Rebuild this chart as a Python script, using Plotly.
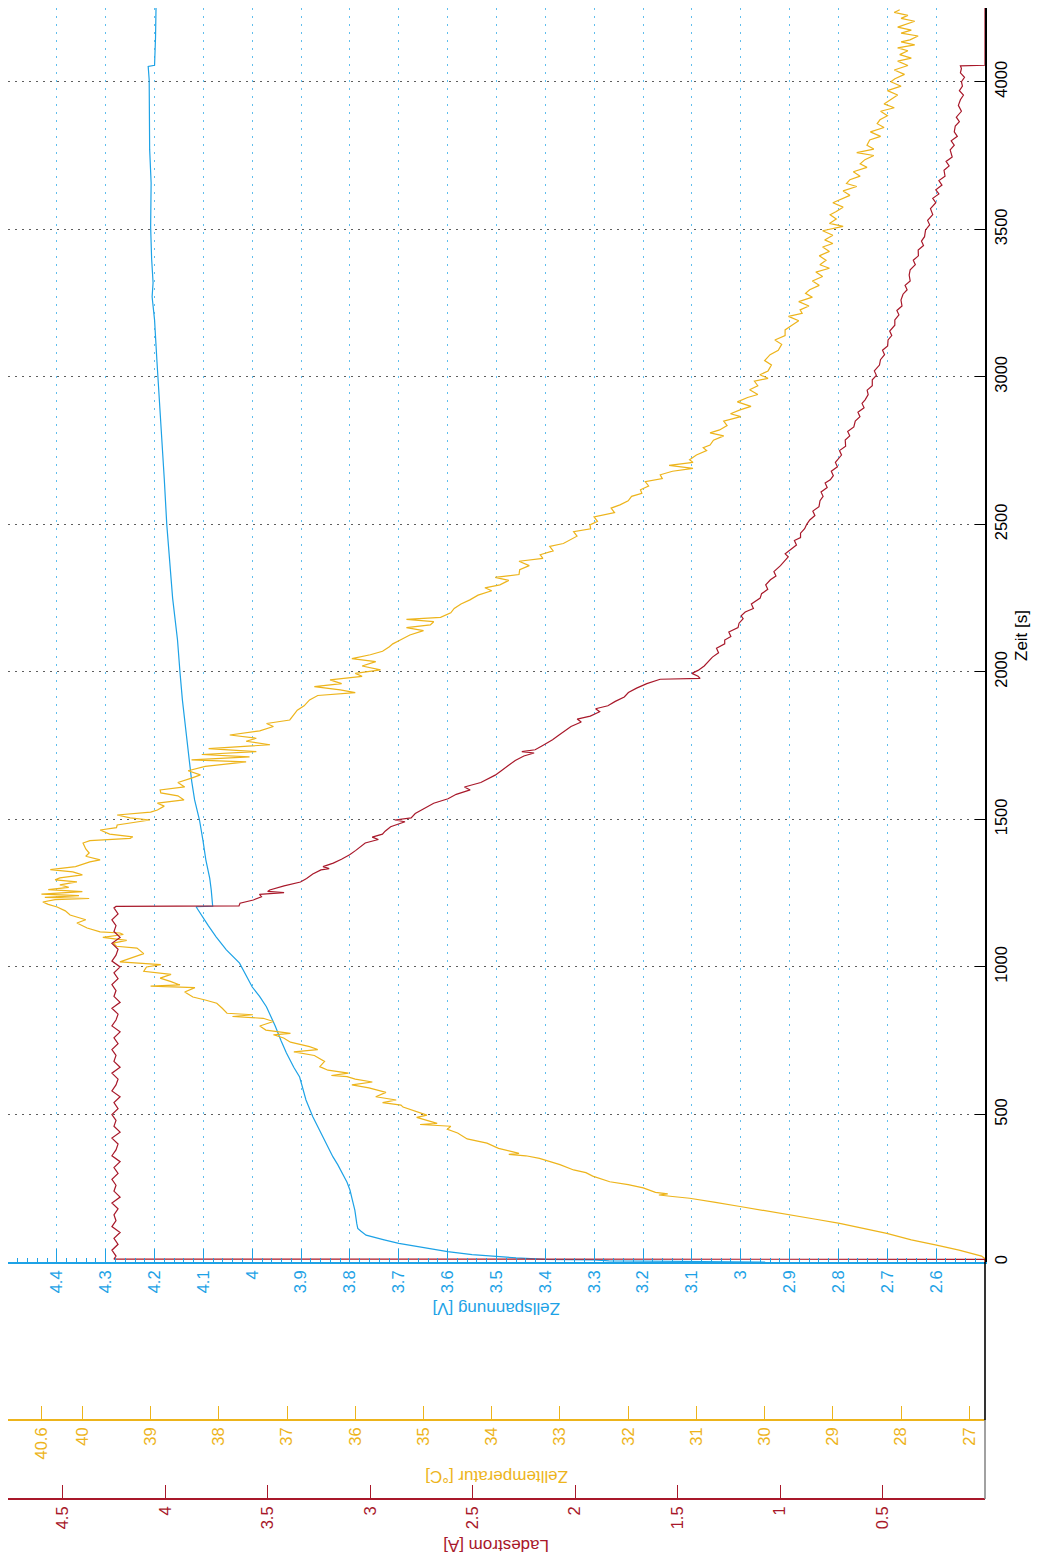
import plotly.graph_objects as go

# ---- measured data: charging of a Li-ion cell ----
# cell voltage [V]
t_volt = [0, 2, 4, 7, 9, 14, 18, 25, 35, 45, 55, 63, 75, 91, 105, 114, 130, 150, 176, 210,
          244, 270, 300, 330, 357, 400, 447, 492, 549, 590, 627, 660, 708, 750, 800, 865,
          900, 932, 970, 1013, 1058, 1102, 1140, 1170, 1204, 1206, 1230, 1261, 1300, 1363,
          1430, 1498, 1566, 1630, 1702, 1800, 1905, 2000, 2108, 2250, 2380, 2500, 2651,
          2800, 2922, 3050, 3193, 3271, 3319, 3400, 3508, 3657, 3770, 3900, 4007, 4052,
          4056, 4150, 4250]
volt = [2.95, 3.20, 3.27, 3.30, 3.40, 3.46, 3.50, 3.55, 3.60, 3.635, 3.665, 3.70, 3.73, 3.767,
        3.778, 3.784, 3.786, 3.788, 3.790, 3.795, 3.800, 3.806, 3.815, 3.825, 3.835, 3.848,
        3.862, 3.876, 3.890, 3.897, 3.903, 3.915, 3.930, 3.941, 3.953, 3.971, 3.985, 4.000,
        4.012, 4.026, 4.053, 4.074, 4.090, 4.102, 4.115, 4.081, 4.082, 4.084, 4.087, 4.095,
        4.101, 4.108, 4.118, 4.124, 4.129, 4.136, 4.143, 4.148, 4.153, 4.163, 4.170, 4.175,
        4.180, 4.186, 4.190, 4.195, 4.200, 4.205, 4.203, 4.206, 4.208, 4.207, 4.210, 4.210,
        4.211, 4.213, 4.200, 4.198, 4.197]

# cell temperature [°C]
t_temp = [0, 13, 20, 40, 57, 75, 97, 115, 131, 145, 159, 175, 188, 202, 216, 222, 227, 231, 236,
          251, 262, 272, 291, 303, 312, 330, 351, 360, 365, 368, 385, 403, 417, 437, 450, 460,
          464, 466, 470, 480, 490, 498, 510, 525, 532, 540, 549, 560, 575, 590, 600, 610, 620,
          628, 632, 640, 650, 662, 680, 700, 712, 720, 730, 745, 759, 770, 775, 786, 800, 815,
          826, 832, 838, 843, 860, 877, 888, 898, 915, 930, 935, 939, 950, 962, 975, 985, 1000,
          1008, 1017, 1030, 1045, 1064, 1070, 1081, 1090, 1100, 1110, 1115, 1119, 1132, 1149,
          1160, 1176, 1190, 1203, 1212, 1220, 1228, 1232, 1236, 1242, 1247, 1255, 1262, 1270,
          1278, 1288, 1295, 1302, 1312, 1322, 1330, 1340, 1356, 1363, 1375, 1386, 1400, 1420,
          1428, 1436, 1441, 1450, 1464, 1472, 1481, 1490, 1498, 1505, 1515, 1525, 1532, 1545,
          1555, 1566, 1580, 1590, 1600, 1610, 1625, 1640, 1651, 1665, 1680, 1695, 1702, 1712,
          1720, 1730, 1740, 1753, 1765, 1775, 1786, 1800, 1815, 1825, 1837, 1855, 1870, 1885,
          1905, 1920, 1930, 1939, 1950, 1960, 1973, 1985, 1995, 2007, 2020, 2035, 2045, 2058,
          2070, 2085, 2095, 2108, 2125, 2140, 2150, 2159, 2170, 2178, 2185, 2200, 2215, 2230,
          2244, 2260, 2275, 2285, 2295, 2310, 2320, 2330, 2346, 2360, 2375, 2385, 2397, 2410,
          2425, 2435, 2447, 2460, 2475, 2485, 2498, 2510, 2525, 2540, 2555, 2566, 2580, 2595,
          2605, 2617, 2630, 2645, 2655, 2668, 2680, 2690, 2700, 2710, 2719, 2735, 2750, 2760,
          2769, 2785, 2800, 2810, 2820, 2835, 2850, 2865, 2875, 2888, 2900, 2915, 2930, 2940,
          2956, 2970, 2985, 2995, 3007, 3020, 3040, 3055, 3075, 3090, 3110, 3125, 3140, 3159,
          3175, 3190, 3205, 3215, 3227, 3240, 3255, 3270, 3283, 3295, 3310, 3325, 3340, 3355,
          3368, 3380, 3395, 3410, 3425, 3440, 3452, 3464, 3480, 3495, 3510, 3520, 3535, 3549,
          3560, 3575, 3590, 3600, 3615, 3630, 3645, 3655, 3668, 3680, 3695, 3710, 3722, 3736,
          3750, 3760, 3772, 3785, 3803, 3815, 3830, 3845, 3858, 3871, 3885, 3900, 3912, 3925,
          3939, 3955, 3970, 3985, 4000, 4010, 4025, 4040, 4055, 4070, 4080, 4092, 4105, 4115,
          4125, 4135, 4142, 4155, 4165, 4175, 4185, 4193, 4205, 4215, 4225, 4235, 4244]
temp = [26.77, 26.78, 26.82, 27.15, 27.48, 27.85, 28.21, 28.55, 28.90, 29.25, 29.63, 30.00, 30.36,
        30.72, 31.10, 31.35, 31.55, 31.42, 31.60, 31.78, 32.00, 32.27, 32.52, 32.62, 32.80, 33.00,
        33.30, 33.50, 33.75, 33.60, 33.90, 34.07, 34.36, 34.50, 34.65, 34.60, 34.85, 35.05, 34.80,
        34.95, 35.10, 34.95, 35.10, 35.30, 35.33, 35.60, 35.40, 35.70, 35.55, 35.80, 36.05, 35.75,
        36.00, 36.12, 36.35, 36.10, 36.40, 36.52, 36.45, 36.60, 36.90, 36.55, 36.67, 36.95, 37.05,
        37.20, 36.95, 37.31, 37.40, 37.20, 37.35, 37.80, 37.50, 37.88, 37.95, 38.03, 38.20, 38.38,
        38.50, 38.35, 39.00, 38.57, 38.70, 38.86, 38.70, 39.10, 39.06, 38.85, 39.45, 39.30, 39.10,
        39.20, 39.50, 39.55, 39.35, 39.70, 39.40, 39.45, 39.74, 39.93, 40.08, 39.95, 40.18, 40.25,
        40.37, 40.50, 40.58, 40.40, 39.90, 40.55, 40.05, 40.60, 40.00, 40.50, 40.20, 40.33, 40.08,
        40.40, 40.33, 40.00, 40.14, 40.47, 40.10, 39.89, 39.74, 39.95, 39.90, 39.95, 39.99, 39.89,
        39.30, 39.26, 39.60, 39.74, 39.50, 39.49, 39.20, 39.01, 39.30, 39.49, 39.00, 38.90, 38.80,
        38.90, 38.51, 38.60, 38.85, 38.86, 38.50, 38.60, 38.40, 38.27, 38.45, 38.20, 37.60, 38.40,
        37.55, 38.25, 37.45, 38.15, 37.25, 37.60, 37.45, 37.84, 37.40, 37.20, 37.30, 36.96, 36.90,
        36.85, 36.75, 36.67, 36.55, 36.00, 36.22, 36.60, 36.20, 36.37, 35.90, 36.00, 35.63, 35.90,
        35.70, 36.05, 35.78, 35.60, 35.50, 35.45, 35.34, 35.20, 35.00, 35.25, 34.90, 34.85, 35.25,
        34.75, 34.60, 34.55, 34.45, 34.32, 34.20, 34.00, 34.10, 33.88, 33.75, 33.95, 33.60, 33.59,
        33.45, 33.60, 33.25, 33.29, 33.10, 33.15, 32.95, 32.85, 32.75, 32.80, 32.55, 32.56, 32.45,
        32.50, 32.20, 32.25, 32.12, 32.00, 31.95, 31.80, 31.82, 31.70, 31.75, 31.50, 31.53, 31.35,
        31.05, 31.40, 31.05, 31.10, 31.00, 30.85, 30.90, 30.80, 30.75, 30.60, 30.80, 30.66, 30.55,
        30.60, 30.35, 30.50, 30.36, 30.20, 30.40, 30.25, 30.10, 30.22, 30.10, 30.15, 29.95, 30.07,
        29.95, 29.90, 30.00, 29.92, 29.80, 29.75, 29.85, 29.70, 29.70, 29.60, 29.50, 29.65, 29.45,
        29.48, 29.35, 29.50, 29.30, 29.40, 29.34, 29.20, 29.30, 29.15, 29.25, 29.05, 29.19, 29.10,
        29.20, 29.05, 29.15, 29.00, 29.12, 29.00, 29.15, 28.85, 29.05, 28.95, 29.04, 28.95, 28.85,
        29.00, 28.90, 28.75, 28.85, 28.65, 28.80, 28.75, 28.60, 28.70, 28.50, 28.60, 28.53, 28.40,
        28.65, 28.40, 28.50, 28.46, 28.30, 28.45, 28.25, 28.35, 28.31, 28.20, 28.30, 28.10, 28.25,
        28.16, 28.05, 28.20, 28.00, 28.15, 28.09, 27.95, 28.10, 27.90, 28.05, 27.85, 28.02, 27.90,
        28.05, 27.80, 28.00, 27.87, 27.75, 28.00, 27.85, 28.05, 27.94, 27.80, 28.00, 27.90, 28.10,
        28.02]

# charging current [A]
t_curr = [0, 9, 10, 20, 40, 60, 80, 100, 120, 140, 160, 180, 200, 220, 240, 260, 280, 300, 320,
          340, 360, 380, 400, 420, 440, 460, 480, 500, 520, 540, 560, 580, 600, 620, 640, 660,
          680, 700, 720, 740, 760, 780, 800, 820, 840, 860, 880, 900, 920, 940, 960, 980, 1000,
          1020, 1040, 1060, 1080, 1100, 1120, 1140, 1160, 1180, 1200, 1205, 1207, 1216, 1227,
          1238, 1246, 1250, 1252, 1256, 1261, 1275, 1288, 1300, 1315, 1329, 1333, 1340, 1352,
          1365, 1380, 1395, 1410, 1420, 1432, 1440, 1450, 1460, 1475, 1485, 1492, 1498, 1505,
          1520, 1540, 1555, 1570, 1585, 1600, 1610, 1625, 1650, 1665, 1680, 1700, 1715, 1725,
          1730, 1736, 1750, 1770, 1785, 1800, 1815, 1830, 1840, 1850, 1865, 1875, 1885, 1900,
          1915, 1930, 1945, 1960, 1970, 1975, 1978, 1985, 1995, 2005, 2020, 2035, 2050, 2065,
          2080, 2095, 2108, 2120, 2135, 2150, 2165, 2180, 2190, 2203, 2215, 2230, 2250, 2265,
          2280, 2295, 2312, 2325, 2340, 2360, 2375, 2390, 2400, 2414, 2430, 2445, 2455, 2470,
          2485, 2500, 2515, 2530, 2545, 2560, 2580, 2595, 2610, 2625, 2640, 2651, 2665, 2680,
          2695, 2710, 2720, 2735, 2750, 2765, 2786, 2800, 2815, 2830, 2850, 2865, 2880, 2895,
          2910, 2922, 2940, 2955, 2970, 2990, 3005, 3020, 3040, 3058, 3075, 3090, 3105, 3125,
          3140, 3155, 3175, 3193, 3210, 3225, 3240, 3260, 3280, 3295, 3310, 3325, 3345, 3363,
          3380, 3395, 3410, 3430, 3445, 3460, 3475, 3498, 3515, 3530, 3550, 3570, 3590, 3605,
          3620, 3634, 3650, 3665, 3680, 3700, 3715, 3730, 3745, 3769, 3785, 3800, 3815, 3830,
          3850, 3865, 3880, 3900, 3920, 3939, 3955, 3970, 3985, 4000, 4015, 4030, 4045, 4054,
          4056, 4250]
curr = [0.0, 0.0, 4.25, 4.24, 4.26, 4.23, 4.25, 4.22, 4.26, 4.24, 4.25, 4.23, 4.26, 4.22, 4.25,
        4.24, 4.26, 4.23, 4.25, 4.22, 4.26, 4.24, 4.23, 4.26, 4.22, 4.25, 4.24, 4.26, 4.23, 4.25,
        4.22, 4.26, 4.24, 4.23, 4.26, 4.22, 4.25, 4.24, 4.26, 4.23, 4.25, 4.22, 4.26, 4.24, 4.23,
        4.26, 4.22, 4.25, 4.24, 4.26, 4.23, 4.25, 4.22, 4.26, 4.24, 4.23, 4.26, 4.22, 4.25, 4.24,
        4.26, 4.23, 4.25, 4.24, 3.64, 3.635, 3.57, 3.53, 3.54, 3.46, 3.42, 3.50, 3.49, 3.42,
        3.34, 3.31, 3.28, 3.24, 3.20, 3.23, 3.18, 3.14, 3.10, 3.07, 3.04, 3.024, 2.96, 2.99,
        2.94, 2.927, 2.90, 2.86, 2.83, 2.88, 2.80, 2.78, 2.732, 2.69, 2.62, 2.58, 2.512, 2.54,
        2.46, 2.39, 2.36, 2.33, 2.292, 2.25, 2.20, 2.26, 2.195, 2.16, 2.11, 2.08, 2.048, 2.02,
        1.97, 1.99, 1.926, 1.88, 1.90, 1.84, 1.804, 1.76, 1.74, 1.70, 1.65, 1.61, 1.585, 1.39,
        1.40, 1.43, 1.40, 1.37, 1.35, 1.33, 1.30, 1.31, 1.27, 1.27, 1.24, 1.25, 1.205, 1.20,
        1.18, 1.19, 1.17, 1.13, 1.14, 1.097, 1.09, 1.06, 1.07, 1.047, 1.02, 1.03, 0.998, 0.98,
        0.96, 0.975, 0.95, 0.92, 0.93, 0.90, 0.90, 0.88, 0.87, 0.855, 0.83, 0.84, 0.81, 0.805,
        0.79, 0.80, 0.77, 0.78, 0.755, 0.74, 0.75, 0.72, 0.73, 0.716, 0.70, 0.71, 0.68, 0.682,
        0.66, 0.67, 0.64, 0.633, 0.61, 0.62, 0.59, 0.60, 0.585, 0.57, 0.575, 0.55, 0.55, 0.53,
        0.54, 0.515, 0.51, 0.49, 0.50, 0.475, 0.473, 0.455, 0.465, 0.44, 0.44, 0.42, 0.43, 0.405,
        0.41, 0.40, 0.38, 0.39, 0.365, 0.37, 0.365, 0.34, 0.35, 0.325, 0.326, 0.30, 0.31, 0.295,
        0.29, 0.27, 0.28, 0.255, 0.266, 0.24, 0.255, 0.225, 0.24, 0.21, 0.225, 0.195, 0.20, 0.175,
        0.19, 0.16, 0.17, 0.15, 0.165, 0.135, 0.15, 0.145, 0.125, 0.14, 0.115, 0.13, 0.12, 0.105,
        0.125, 0.11, 0.115, 0.10, 0.12, 0.115, 0.12, 0.0, 0.0]

volt_ticks = [2.6, 2.7, 2.8, 2.9, 3.0, 3.1, 3.2, 3.3, 3.4, 3.5, 3.6, 3.7, 3.8, 3.9, 4.0, 4.1, 4.2, 4.3, 4.4]
temp_ticks = [27, 28, 29, 30, 31, 32, 33, 34, 35, 36, 37, 38, 39, 40, 40.6]
curr_ticks = [0.5, 1, 1.5, 2, 2.5, 3, 3.5, 4, 4.5]
time_ticks = [0, 500, 1000, 1500, 2000, 2500, 3000, 3500, 4000]

BLUE = "#1DA2E6"
YELLOW = "#EDB41B"
RED = "#A8182A"
FONT = "Liberation Sans, Arial, sans-serif"

fig = go.Figure()
fig.add_trace(go.Scatter(x=volt, y=t_volt, mode="lines", line=dict(color=BLUE, width=1.2),
                         xaxis="x", yaxis="y", name="Zellspannung"))
fig.add_trace(go.Scatter(x=temp, y=t_temp, mode="lines", line=dict(color=YELLOW, width=1.2),
                         xaxis="x2", yaxis="y", name="Zelltemperatur"))
fig.add_trace(go.Scatter(x=curr, y=t_curr, mode="lines", line=dict(color=RED, width=1.2),
                         xaxis="x3", yaxis="y", name="Ladestrom"))

# plot area spans pixel rows 8..1499, the time axis occupies rows 8..1262
PH = 1491.0
def py(pix):
    return (1499 - pix) / PH

tick_font = dict(family=FONT, size=16.5)

fig.update_layout(
    width=1038, height=1563,
    margin=dict(l=8, r=53, t=8, b=64, pad=0),
    paper_bgcolor="white", plot_bgcolor="white",
    showlegend=False,
    font=dict(family=FONT),
    yaxis=dict(
        domain=[py(1262), 1], range=[0, 4250], side="right", anchor="x",
        tickvals=time_ticks, ticks="inside", ticklen=10, tickwidth=1.2, tickcolor="black",
        tickangle=-90, tickfont=dict(tick_font, color="black"),
        showline=True, linecolor="black", linewidth=1.6, zeroline=False,
        showgrid=True, gridcolor="rgba(40,40,40,0.75)", gridwidth=1, griddash="2px,5px",
    ),
    xaxis=dict(
        domain=[0, 1], range=[4.5, 2.5], anchor="y", side="bottom",
        tickvals=volt_ticks, ticktext=[f"{v:g}" for v in volt_ticks],
        ticks="inside", ticklen=13, tickwidth=1.2, tickcolor=BLUE,
        tickangle=-90, tickfont=dict(tick_font, color=BLUE),
        showline=True, linecolor=BLUE, linewidth=1.6, zeroline=False,
        showgrid=True, gridcolor="rgba(29,162,230,0.7)", gridwidth=1, griddash="2px,6px",
        minor=dict(ticks="inside", ticklen=4, dtick=0.02, tickcolor=BLUE, showgrid=False),
    ),
    xaxis2=dict(
        domain=[0, 1], range=[41.09, 26.77], overlaying="x", anchor="free", position=py(1420),
        side="bottom", tickvals=temp_ticks, ticktext=[f"{v:g}" for v in temp_ticks],
        ticks="inside", ticklen=13, tickwidth=1.2, tickcolor=YELLOW,
        tickangle=-90, tickfont=dict(tick_font, color=YELLOW),
        showline=True, linecolor=YELLOW, linewidth=1.6, zeroline=False, showgrid=False,
    ),
    xaxis3=dict(
        domain=[0, 1], range=[4.767, 0], overlaying="x", anchor="free", position=py(1499),
        side="bottom", tickvals=curr_ticks, ticktext=[f"{v:g}" for v in curr_ticks],
        ticks="inside", ticklen=13, tickwidth=1.2, tickcolor=RED,
        tickangle=-90, tickfont=dict(tick_font, color=RED),
        showline=True, linecolor=RED, linewidth=1.6, zeroline=False, showgrid=False,
    ),
)

# right-hand frame edge below the time axis
fig.add_shape(type="line", xref="paper", yref="paper", x0=1, x1=1, y0=py(1420), y1=py(1262),
              line=dict(color="black", width=1.6))
fig.add_shape(type="line", xref="paper", yref="paper", x0=1, x1=1, y0=0, y1=py(1420),
              line=dict(color="#8a8a8a", width=1.6))

title_font = dict(family=FONT, size=17)
def axis_title(text, x, y, angle, color):
    fig.add_annotation(text=text, xref="paper", yref="paper", x=x, y=y,
                       xanchor="center", yanchor="middle", showarrow=False,
                       textangle=angle, font=dict(title_font, color=color))

axis_title("Zellspannung [V]", 0.5, py(1309), 180, BLUE)
axis_title("Zelltemperatur [°C]", 0.5, py(1477), 180, YELLOW)
axis_title("Ladestrom [A]", 0.5, py(1545), 180, RED)
axis_title("Zeit [s]", (1021 - 8) / 977.0, py(636), -90, "black")

fig.write_html("out.html")
